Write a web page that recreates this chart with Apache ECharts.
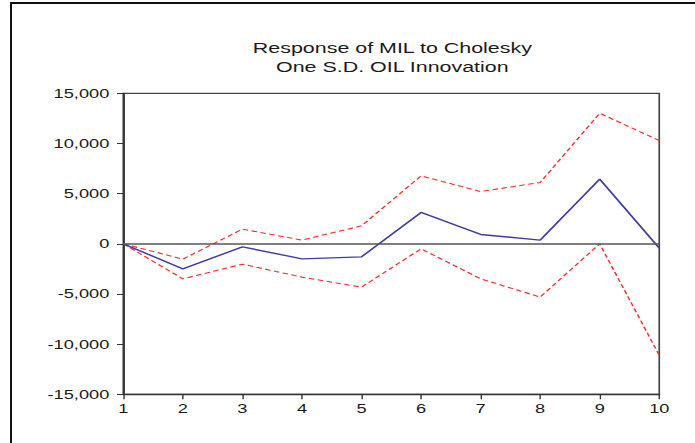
<!DOCTYPE html>
<html>
<head>
<meta charset="utf-8">
<script src="https://cdn.jsdelivr.net/npm/echarts@6/dist/echarts.min.js"></script>
<style>
    html, body { margin: 0; padding: 0; background: #fff; overflow: hidden; }
    #frame { position: absolute; left: 10px; top: 2px; width: 720px; height: 480px;
             border-left: 2px solid #111; border-top: 2px solid #111; }
    /* the source picture is stretched sideways, so the chart is too */
    #wrap { position: absolute; left: 0; top: 0; width: 496px; height: 443px;
            transform: scaleX(1.4012); transform-origin: 0 0; }
    #chart { width: 496px; height: 443px; }
</style>
</head>
<body>
<div id="frame"></div>
<div id="wrap"><div id="chart"></div></div>
<script>
let periods = [1, 2, 3, 4, 5, 6, 7, 8, 9, 10];
let response = [0, -2500, -300, -1500, -1300, 3120, 930, 370, 6440, -430];
let upperBand = [0, -1530, 1460, 370, 1790, 6770, 5210, 6110, 13010, 10290];
let lowerBand = [0, -3490, -2030, -3320, -4320, -500, -3490, -5310, 0, -11120];
let yTicks = [-15000, 15000, 5000]; // min, max, step

function pairs(vals){
    const out = [];
    for(const i in periods) {
        out.push([periods[i], vals[i]]);
    }
    return out;
}

drawChart();

function drawChart(){
    const dom = document.getElementById("chart");
    const myChart = echarts.init(dom, null, { renderer: 'svg' });
    const font = 'Arial, "Liberation Sans", sans-serif';

    const option = {
        animation: false,
        title: {
            text: 'Response of MIL to Cholesky\nOne S.D. OIL Innovation',
            left: 275,
            top: 33,
            textAlign: 'center',
            textStyle: {
                fontFamily: font,
                fontSize: 15.3,
                fontWeight: 'normal',
                color: '#1a1a1a',
                lineHeight: 19
            }
        },
        grid: {
            left: 88,
            right: 25.5,
            top: 93.3,
            bottom: 48.7,
            show: true,
            borderColor: '#444',
            borderWidth: 1.2
        },
        xAxis: {
            type: 'value',
            min: 1,
            max: 10,
            interval: 1,
            splitLine: { show: false },
            axisLine: { onZero: false, lineStyle: { color: '#333', width: 1.3 } },
            axisTick: { length: 5, lineStyle: { color: '#333' } },
            axisLabel: {
                margin: 8,
                fontFamily: font,
                fontSize: 13,
                color: '#1a1a1a'
            }
        },
        yAxis: {
            type: 'value',
            min: yTicks[0],
            max: yTicks[1],
            interval: yTicks[2],
            splitLine: { show: false },
            axisLine: { show: true, lineStyle: { color: '#333', width: 1.3 } },
            axisTick: { show: true, length: 4.5, lineStyle: { color: '#333' } },
            axisLabel: {
                margin: 10,
                fontFamily: font,
                fontSize: 13,
                color: '#1a1a1a',
                formatter: function(v){ return v.toLocaleString('en-US'); }
            }
        },
        series: [{
            name: 'Upper',
            type: 'line',
            data: pairs(upperBand),
            symbol: 'none',
            z: 2,
            lineStyle: { color: '#ff2b2b', width: 1.1, type: [4, 2.5] },
            markLine: {
                silent: true,
                symbol: 'none',
                label: { show: false },
                lineStyle: { color: '#555', width: 1.6, type: 'solid' },
                data: [{ yAxis: 0 }]
            }
        }, {
            name: 'Lower',
            type: 'line',
            data: pairs(lowerBand),
            symbol: 'none',
            z: 2,
            lineStyle: { color: '#ff2b2b', width: 1.1, type: [4, 2.5] }
        }, {
            name: 'Response',
            type: 'line',
            data: pairs(response),
            symbol: 'none',
            z: 3,
            lineStyle: { color: '#3d3da6', width: 1.4 }
        }]
    };
    myChart.setOption(option, true);
}
</script>
</body>
</html>
